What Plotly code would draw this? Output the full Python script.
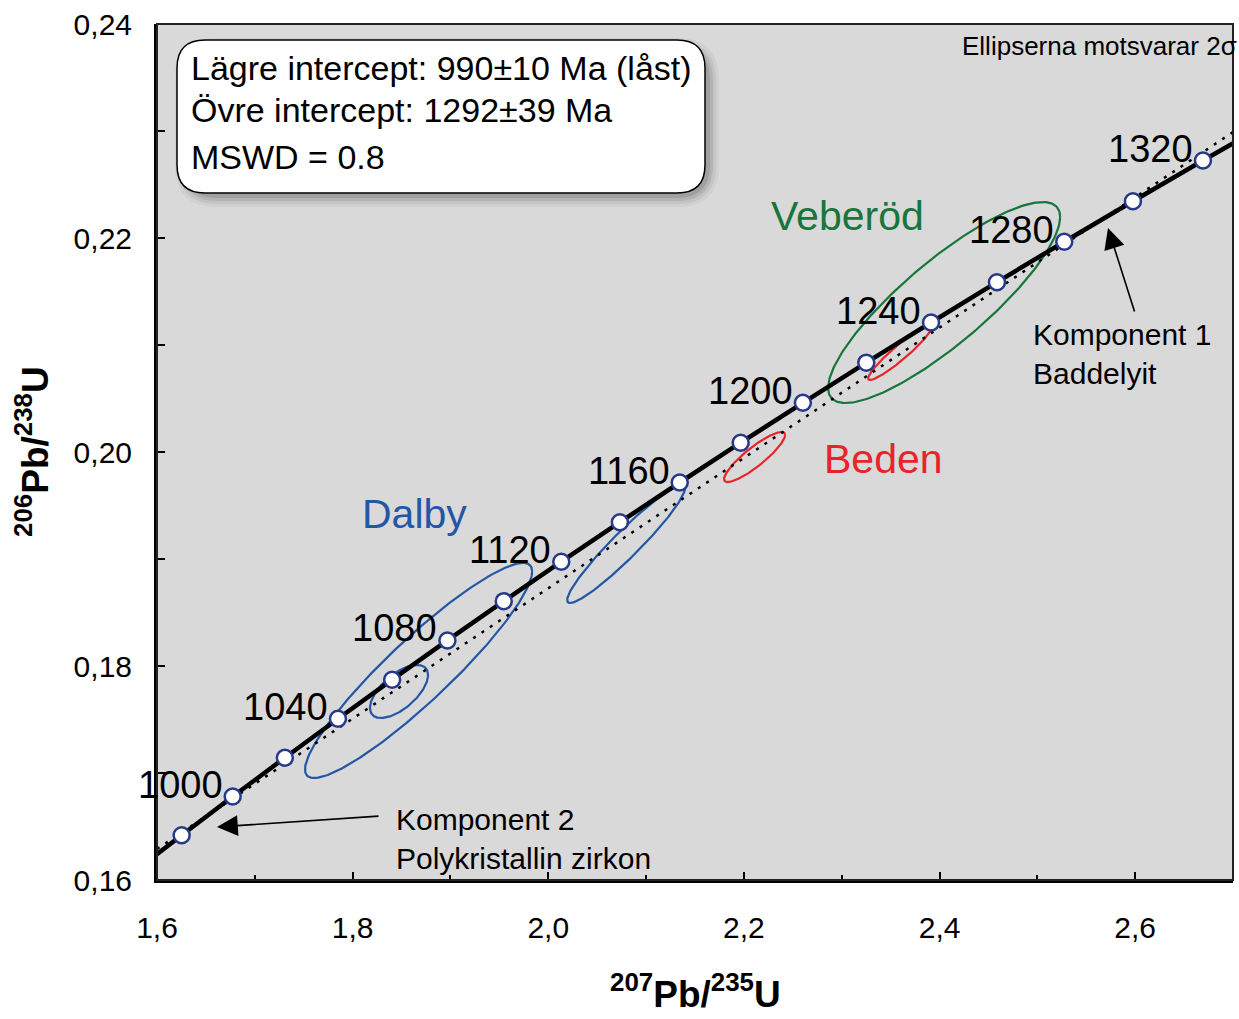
import numpy as np
import plotly.graph_objects as go

# ---------------- data ----------------
# concordia points (age in Ma, 207Pb/235U, 206Pb/238U)
ages = [960, 980, 1000, 1020, 1040, 1060, 1080, 1100, 1120, 1140, 1160,
        1180, 1200, 1220, 1240, 1260, 1280, 1300, 1320, 1340]
conc_x = [1.5740, 1.6252, 1.6774, 1.7307, 1.7850, 1.8404, 1.8969, 1.9545,
          2.0133, 2.0732, 2.1344, 2.1967, 2.2603, 2.3251, 2.3913, 2.4587,
          2.5275, 2.5977, 2.6693, 2.7423]
conc_y = [0.16058, 0.16419, 0.16780, 0.17143, 0.17507, 0.17872, 0.18239,
          0.18606, 0.18975, 0.19344, 0.19715, 0.20087, 0.20460, 0.20835,
          0.21210, 0.21587, 0.21965, 0.22344, 0.22724, 0.23104]
marker_ages = [980, 1000, 1020, 1040, 1060, 1080, 1100, 1120, 1140, 1160,
               1180, 1200, 1220, 1240, 1260, 1280, 1300, 1320]
label_ages = [1000, 1040, 1080, 1120, 1160, 1200, 1240, 1280, 1320]

# discordia (dotted) line end points
disc_x = [1.6, 2.7]
disc_y = [0.1629, 0.2299]

# error ellipses: centre x, centre y, half x-extent, half y-extent, correlation
ell_group = ["Dalby", "Dalby", "Dalby", "Beden", "Beden", "Veberöd"]
ell_cx = [1.8674, 1.8474, 2.0796, 2.2109, 2.3597, 2.4047]
ell_cy = [0.17958, 0.17762, 0.19140, 0.19953, 0.20930, 0.21397]
ell_ax = [0.1161, 0.0297, 0.0603, 0.0312, 0.0327, 0.1186]
ell_ay = [0.01005, 0.00248, 0.00551, 0.00234, 0.00257, 0.00939]
ell_rho = [0.92, 0.62, 0.95, 0.88, 0.94, 0.85]

group_color = {"Dalby": "#2456a6", "Beden": "#e8242a", "Veberöd": "#18753b"}

# ---------------- helpers for layout positions ----------------
X0, X1, Y0, Y1 = 1.6, 2.7, 0.16, 0.24
PL, PR, PT, PB = 157, 1233, 24, 880
def dx(px):
    return X0 + (px - PL) * (X1 - X0) / (PR - PL)
def dy(py):
    return Y0 + (PB - py) * (Y1 - Y0) / (PB - PT)
def fx(px):
    return (px - PL) / (PR - PL)
def fy(py):
    return (PB - py) / (PB - PT)

FONT = "Liberation Sans, Arial, sans-serif"

fig = go.Figure()

# ellipses
t = np.linspace(0, 2 * np.pi, 240)
for g, cx, cy, a, b, r in zip(ell_group, ell_cx, ell_cy, ell_ax, ell_ay, ell_rho):
    ex = cx + a * np.cos(t)
    ey = cy + b * (r * np.cos(t) + np.sqrt(1 - r * r) * np.sin(t))
    fig.add_trace(go.Scatter(x=ex, y=ey, mode="lines",
                             line=dict(color=group_color[g], width=2.2),
                             hoverinfo="skip", showlegend=False))

# discordia
fig.add_trace(go.Scatter(x=disc_x, y=disc_y, mode="lines",
                         line=dict(color="black", width=2.5, dash="3px,7px"),
                         showlegend=False))

# concordia curve
fig.add_trace(go.Scatter(x=conc_x, y=conc_y, mode="lines",
                         line=dict(color="black", width=4.5, shape="spline"),
                         showlegend=False))

# age markers
mx = [conc_x[ages.index(a)] for a in marker_ages]
my = [conc_y[ages.index(a)] for a in marker_ages]
fig.add_trace(go.Scatter(x=mx, y=my, mode="markers",
                         marker=dict(size=16, color="white",
                                     line=dict(color="#27398a", width=2.5)),
                         showlegend=False))

annotations = []
for a in label_ages:
    i = ages.index(a)
    annotations.append(dict(x=conc_x[i], y=conc_y[i], xref="x", yref="y",
                            text=str(a), showarrow=False, xanchor="right",
                            yanchor="middle", xshift=-8, yshift=12,
                            font=dict(family=FONT, size=38, color="black")))

# group labels
for name, px, py in [("Dalby", 414, 514), ("Veberöd", 847, 216), ("Beden", 883, 459)]:
    annotations.append(dict(x=fx(px), y=fy(py), xref="paper", yref="paper", text=name,
                            showarrow=False, xanchor="center", yanchor="middle",
                            font=dict(family=FONT, size=41, color=group_color[name])))

# info box text
for txt, py in [("Lägre intercept: 990±10 Ma (låst)", 68),
                ("Övre intercept: 1292±39 Ma", 110),
                ("MSWD = 0.8", 157)]:
    annotations.append(dict(x=fx(189), y=fy(py), xref="paper", yref="paper", text=txt,
                            showarrow=False, xanchor="left", yanchor="middle",
                            font=dict(family=FONT, size=34, color="black")))

annotations.append(dict(x=fx(1239), y=fy(46), xref="paper", yref="paper",
                        text="Ellipserna motsvarar 2σ", showarrow=False,
                        xanchor="right", yanchor="middle",
                        font=dict(family=FONT, size=26, color="black")))

# component arrows
annotations.append(dict(x=dx(1108), y=dy(228), xref="x", yref="y", ax=27, ay=85,
                        text="", showarrow=True, arrowhead=2, arrowsize=2.6,
                        arrowwidth=1.6, arrowcolor="black"))
annotations.append(dict(x=fx(1031), y=fy(316), xref="paper", yref="paper",
                        text="Komponent 1<br>Baddelyit", showarrow=False,
                        xanchor="left", yanchor="top", align="left",
                        font=dict(family=FONT, size=30, color="black")))
annotations.append(dict(x=dx(217), y=dy(827), xref="x", yref="y", ax=163, ay=-11,
                        text="", showarrow=True, arrowhead=2, arrowsize=2.6,
                        arrowwidth=1.6, arrowcolor="black"))
annotations.append(dict(x=fx(394), y=fy(801), xref="paper", yref="paper",
                        text="Komponent 2<br>Polykristallin zirkon", showarrow=False,
                        xanchor="left", yanchor="top", align="left",
                        font=dict(family=FONT, size=30, color="black")))

# axis titles
annotations.append(dict(x=0.5, y=fy(1017), xref="paper", yref="paper",
                        text="<b><sup>207</sup>Pb/<sup>235</sup>U</b>",
                        showarrow=False, xanchor="center", yanchor="bottom",
                        font=dict(family=FONT, size=37, color="black")))
annotations.append(dict(x=fx(32), y=0.5, xref="paper", yref="paper",
                        text="<b><sup>206</sup>Pb/<sup>238</sup>U</b>", textangle=-90,
                        showarrow=False, xanchor="center", yanchor="middle",
                        font=dict(family=FONT, size=37, color="black")))

# rounded box path
def rounded(px0, py0, px1, py1, r):
    x0, x1 = dx(px0), dx(px1)
    ya, yb = dy(py0), dy(py1)  # ya top, yb bottom
    rx = r * (X1 - X0) / (PR - PL)
    ry = r * (Y1 - Y0) / (PB - PT)
    return (f"M {x0+rx},{ya} L {x1-rx},{ya} Q {x1},{ya} {x1},{ya-ry} "
            f"L {x1},{yb+ry} Q {x1},{yb} {x1-rx},{yb} L {x0+rx},{yb} "
            f"Q {x0},{yb} {x0},{yb+ry} L {x0},{ya-ry} Q {x0},{ya} {x0+rx},{ya} Z")

shapes = []
for k, op in [(14, 0.06), (11, 0.08), (8, 0.12), (5, 0.16)]:
    shapes.append(dict(type="path", xref="x", yref="y",
                       path=rounded(177 + 12 - k, 40 + 12 - k, 705 + k, 193 + k, 28 + k),
                       fillcolor=f"rgba(60,60,60,{op})", line=dict(width=0),
                       layer="above"))
shapes.append(dict(type="path", xref="x", yref="y",
                   path=rounded(177, 40, 705, 193, 28),
                   fillcolor="white", line=dict(color="black", width=1.5),
                   layer="above"))
shapes.append(dict(type="rect", xref="paper", yref="paper", x0=0, x1=1, y0=0, y1=1,
                   line=dict(color="#222222", width=2), layer="above"))

fig.update_layout(
    width=1239, height=1019,
    margin=dict(l=PL, r=1239 - PR, t=PT, b=1019 - PB),
    paper_bgcolor="white", plot_bgcolor="#d9d9d9",
    separators=", ",
    showlegend=False,
    annotations=annotations,
    shapes=shapes,
    font=dict(family=FONT, color="black"),
)
fig.update_xaxes(range=[X0, X1], tick0=1.6, dtick=0.2, tickformat=".1f",
                 ticks="inside", ticklen=8, tickwidth=2, tickcolor="black",
                 minor=dict(dtick=0.1, tick0=1.6, ticks="inside", ticklen=5,
                            tickwidth=2, tickcolor="black"),
                 showline=True, linecolor="black", linewidth=3, mirror=False,
                 showgrid=False, zeroline=False, ticklabelstandoff=19,
                 tickfont=dict(family=FONT, size=30, color="black"))
fig.update_yaxes(range=[Y0, Y1], tick0=0.16, dtick=0.02, tickformat=".2f",
                 ticks="inside", ticklen=8, tickwidth=2, tickcolor="black",
                 minor=dict(dtick=0.01, tick0=0.16, ticks="inside", ticklen=8,
                            tickwidth=2, tickcolor="black"),
                 showline=True, linecolor="black", linewidth=3, mirror=False,
                 showgrid=False, zeroline=False, ticklabelstandoff=16,
                 tickfont=dict(family=FONT, size=30, color="black"))

fig.write_html("out.html")
